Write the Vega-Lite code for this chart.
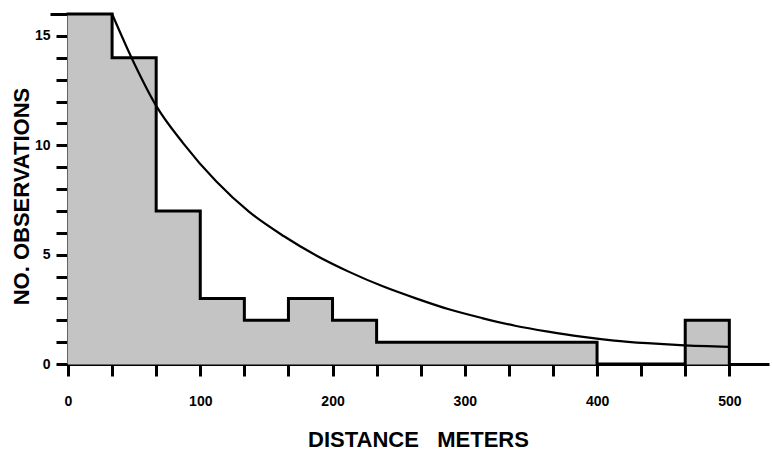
{
  "$schema": "https://vega.github.io/schema/vega-lite/v6.json",
  "width": 701,
  "height": 350,
  "autosize": {"type": "none"},
  "padding": {"left": 68, "top": 14, "right": 3, "bottom": 86},
  "background": "white",
  "config": {
    "view": {"stroke": null},
    "axis": {
      "grid": false,
      "domainColor": "black",
      "domainWidth": 3,
      "tickColor": "black",
      "tickWidth": 3,
      "labelFont": "Liberation Sans",
      "labelFontWeight": "bold",
      "labelFontSize": 14,
      "labelColor": "black",
      "labelFlush": false,
      "labelOverlap": false,
      "titleFont": "Liberation Sans",
      "titleFontWeight": "bold",
      "titleFontSize": 22,
      "titleColor": "black"
    }
  },
  "datasets": {
    "bins": [
      {"start": 0, "end": 33.333, "count": 16},
      {"start": 33.333, "end": 66.667, "count": 14},
      {"start": 66.667, "end": 100, "count": 7},
      {"start": 100, "end": 133.333, "count": 3},
      {"start": 133.333, "end": 166.667, "count": 2},
      {"start": 166.667, "end": 200, "count": 3},
      {"start": 200, "end": 233.333, "count": 2},
      {"start": 233.333, "end": 266.667, "count": 1},
      {"start": 266.667, "end": 300, "count": 1},
      {"start": 300, "end": 333.333, "count": 1},
      {"start": 333.333, "end": 366.667, "count": 1},
      {"start": 366.667, "end": 400, "count": 1},
      {"start": 466.667, "end": 500, "count": 2}
    ],
    "outline": [
      {"seq": 1, "x": 0, "y": 16},
      {"seq": 2, "x": 33.333, "y": 16},
      {"seq": 3, "x": 33.333, "y": 14},
      {"seq": 4, "x": 66.667, "y": 14},
      {"seq": 5, "x": 66.667, "y": 7},
      {"seq": 6, "x": 100, "y": 7},
      {"seq": 7, "x": 100, "y": 3},
      {"seq": 8, "x": 133.333, "y": 3},
      {"seq": 9, "x": 133.333, "y": 2},
      {"seq": 10, "x": 166.667, "y": 2},
      {"seq": 11, "x": 166.667, "y": 3},
      {"seq": 12, "x": 200, "y": 3},
      {"seq": 13, "x": 200, "y": 2},
      {"seq": 14, "x": 233.333, "y": 2},
      {"seq": 15, "x": 233.333, "y": 1},
      {"seq": 16, "x": 400, "y": 1},
      {"seq": 17, "x": 400, "y": 0},
      {"seq": 18, "x": 466.667, "y": 0},
      {"seq": 19, "x": 466.667, "y": 2},
      {"seq": 20, "x": 500, "y": 2},
      {"seq": 21, "x": 500, "y": 0}
    ],
    "curve": [
      {"x": 33.333, "y": 16},
      {"x": 50, "y": 13.75},
      {"x": 66.7, "y": 11.8},
      {"x": 87, "y": 10.1},
      {"x": 112, "y": 8.35},
      {"x": 137, "y": 6.95},
      {"x": 163, "y": 5.85},
      {"x": 188, "y": 4.95},
      {"x": 213, "y": 4.2},
      {"x": 238, "y": 3.55},
      {"x": 263, "y": 3.0},
      {"x": 288, "y": 2.5},
      {"x": 313, "y": 2.1},
      {"x": 338, "y": 1.75},
      {"x": 363, "y": 1.48},
      {"x": 388, "y": 1.25},
      {"x": 413, "y": 1.07},
      {"x": 438, "y": 0.95},
      {"x": 463, "y": 0.86},
      {"x": 500, "y": 0.78}
    ]
  },
  "layer": [
    {
      "data": {"name": "bins"},
      "mark": {"type": "rect", "fill": "#c4c4c4", "stroke": "#c4c4c4", "strokeWidth": 1},
      "encoding": {
        "x": {
          "field": "start",
          "type": "quantitative",
          "scale": {"domain": [0, 530], "nice": false, "zero": false},
          "axis": {
            "values": [0, 33.333, 66.667, 100, 133.333, 166.667, 200, 233.333, 266.667, 300, 333.333, 366.667, 400, 433.333, 466.667, 500],
            "tickCount": 30,
            "format": "d",
            "labelExpr": "datum.value % 100 === 0 ? datum.label : ''",
            "labelOverlap": false,
            "tickSize": 12,
            "labelPadding": 18,
            "title": "DISTANCE\u00a0\u00a0\u00a0METERS",
            "titleX": 350,
            "titleY": 82,
            "titleAlign": "center",
            "titleBaseline": "alphabetic"
          }
        },
        "x2": {"field": "end"},
        "y": {
          "field": "count",
          "type": "quantitative",
          "scale": {"domain": [0, 16], "nice": false},
          "axis": {
            "values": [0, 1, 2, 3, 4, 5, 6, 7, 8, 9, 10, 11, 12, 13, 14, 15, 16],
            "tickCount": 30,
            "format": "d",
            "labelExpr": "datum.value % 5 === 0 ? datum.label : ''",
            "labelOverlap": false,
            "tickSize": {"condition": {"test": "datum.value === 16", "value": 18}, "value": 12},
            "labelPadding": 6,
            "title": "NO. OBSERVATIONS",
            "titleAngle": 270,
            "titleX": -40,
            "titleY": 182,
            "titleAlign": "center",
            "titleBaseline": "alphabetic"
          }
        }
      }
    },
    {
      "data": {"name": "outline"},
      "mark": {"type": "line", "color": "black", "strokeWidth": 3, "strokeJoin": "miter", "strokeCap": "square"},
      "encoding": {
        "x": {"field": "x", "type": "quantitative"},
        "y": {"field": "y", "type": "quantitative"},
        "order": {"field": "seq", "type": "quantitative"}
      }
    },
    {
      "data": {"name": "curve"},
      "mark": {"type": "line", "color": "black", "strokeWidth": 2.2, "interpolate": "monotone"},
      "encoding": {
        "x": {"field": "x", "type": "quantitative"},
        "y": {"field": "y", "type": "quantitative"}
      }
    }
  ]
}
